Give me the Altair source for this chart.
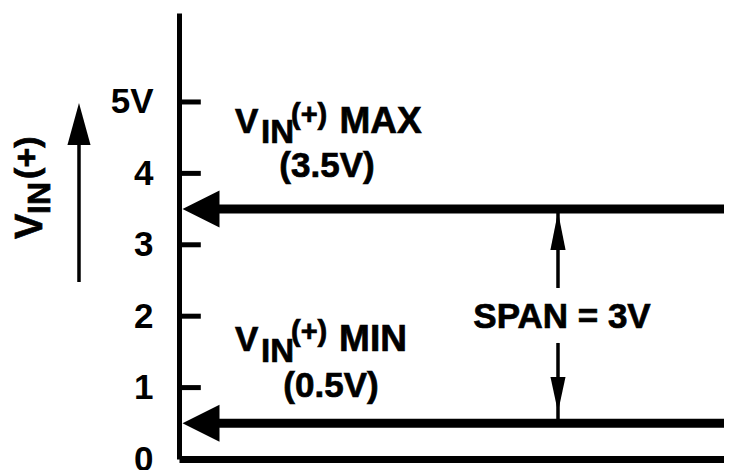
import altair as alt
import pandas as pd

FONT = "Liberation Sans"

# ---- axis ----
tick_values = [0, 1, 2, 3, 4, 5]
tick_labels = ["0", "1", "2", "3", "4", "5V"]
y_max = 6.246
x_max = 10

# ---- input levels (V) ----
level_y = [3.5, 0.5]
level_x_start = [0.6, 0.6]
level_x_end = [10, 10]

# ---- inward tick marks ----
tick_y = [1, 2, 3, 4, 5]
tick_x_start = [0, 0, 0, 0, 0]
tick_x_end = [0.40, 0.40, 0.40, 0.40, 0.40]

# ---- arrow shafts ----
shaft_x = [6.954, 6.954, -1.835]
shaft_y = [3.5, 1.625, 2.479]
shaft_y2 = [2.395, 0.5, 4.398]
shaft_w = [3.5, 3.5, 3.5]

# ---- arrow heads ----
head_x = [0.404, 0.404, 6.954, 6.954, -1.835]
head_y = [3.5, 0.5, 3.193, 0.903, 4.692]
head_shape = ["M-1,0L1,-1L1,1Z", "M-1,0L1,-1L1,1Z",
              "M0,-1L-0.4,1L0.4,1Z", "M0,1L-0.43,-1L0.43,-1Z",
              "M0,-1L-0.55,1L0.55,1Z"]
head_size = [1369, 1369, 1444, 1225, 1764]

# ---- left-aligned label pieces (V, IN subscript, (+) superscript) ----
lt_text = ["V", "IN", "(+)", "V", "IN", "(+)"]
lt_x = [1.028, 1.505, 2.055, 1.028, 1.505, 2.055]
lt_y = [4.566, 4.426, 4.692, 1.513, 1.359, 1.653]
lt_size = [35, 33, 29, 35, 33, 29]

# ---- centered labels ----
ct_text = ["MAX", "(3.5V)", "MIN", "(0.5V)", "SPAN = 3V"]
ct_x = [3.70, 2.716, 3.56, 2.789, 7.028]
ct_y = [4.566, 3.950, 1.513, 0.868, 1.835]
ct_size = [37, 35, 37, 35, 35]

# ---- rotated axis title pieces ----
tt_text = ["V", "IN", "(+)"]
tt_x = [-2.514, -2.367, -2.587]
tt_y = [3.081, 3.431, 3.922]
tt_size = [38, 32, 34]

label_expr = "[" + ",".join("'%s'" % t for t in tick_labels) + "][datum.value]"

xs = alt.Scale(domain=[0, x_max], nice=False, zero=False)
ys = alt.Scale(domain=[0, y_max], nice=False, zero=False)

x_axis = alt.Axis(labels=False, ticks=False, grid=False, domainColor="black",
                  domainWidth=7, title=None)
y_axis = alt.Axis(values=tick_values, labelExpr=label_expr, ticks=False, tickSize=0,
                  grid=False, domainColor="black", domainWidth=5, labelFont=FONT,
                  labelFontWeight="bold", labelFontSize=35, labelColor="black",
                  labelPadding=26, labelOverlap=False, title=None)


def X(f):
    return alt.X(f, type="quantitative", scale=xs, axis=x_axis, title=None)


def Y(f):
    return alt.Y(f, type="quantitative", scale=ys, axis=y_axis, title=None)


levels_df = pd.DataFrame({"x": level_x_start, "x2": level_x_end, "y": level_y})
ticks_df = pd.DataFrame({"x": tick_x_start, "x2": tick_x_end, "y": tick_y})
shaft_df = pd.DataFrame({"x": shaft_x, "y": shaft_y, "y2": shaft_y2, "w": shaft_w})
head_df = pd.DataFrame({"x": head_x, "y": head_y, "shape": head_shape, "size": head_size})
lt_df = pd.DataFrame({"x": lt_x, "y": lt_y, "t": lt_text, "s": lt_size})
ct_df = pd.DataFrame({"x": ct_x, "y": ct_y, "t": ct_text, "s": ct_size})
tt_df = pd.DataFrame({"x": tt_x, "y": tt_y, "t": tt_text, "s": tt_size})

text_style = dict(baseline="alphabetic", font=FONT, fontWeight="bold",
                  color="black", stroke="black", strokeWidth=0.7)

levels = alt.Chart(levels_df).mark_rule(color="black", strokeWidth=9).encode(
    x=X("x"), x2="x2", y=Y("y"))
ticks = alt.Chart(ticks_df).mark_rule(color="black", strokeWidth=5).encode(
    x=X("x"), x2="x2", y=Y("y"))
shafts = alt.Chart(shaft_df).mark_rule(color="black").encode(
    x=X("x"), y=Y("y"), y2="y2",
    strokeWidth=alt.StrokeWidth("w:Q", scale=None))
heads = alt.Chart(head_df).mark_point(filled=True, color="black", opacity=1,
                                      strokeWidth=0).encode(
    x=X("x"), y=Y("y"),
    shape=alt.Shape("shape:N", scale=None),
    size=alt.Size("size:Q", scale=None))
lt = alt.Chart(lt_df).mark_text(align="left", **text_style).encode(
    x=X("x"), y=Y("y"), text="t:N", size=alt.Size("s:Q", scale=None))
ct = alt.Chart(ct_df).mark_text(align="center", **text_style).encode(
    x=X("x"), y=Y("y"), text="t:N", size=alt.Size("s:Q", scale=None))
tt = alt.Chart(tt_df).mark_text(align="left", angle=270, **text_style).encode(
    x=X("x"), y=Y("y"), text="t:N", size=alt.Size("s:Q", scale=None))

chart = alt.layer(levels, ticks, shafts, heads, lt, ct, tt).properties(
    width=545, height=446,
    padding={"left": 171, "top": 5, "right": 0, "bottom": 11},
    autosize=alt.AutoSizeParams(type="none"),
    background="white",
).configure_view(stroke=None)

chart.save("out.html", embed_options={"renderer": "svg", "actions": False})
